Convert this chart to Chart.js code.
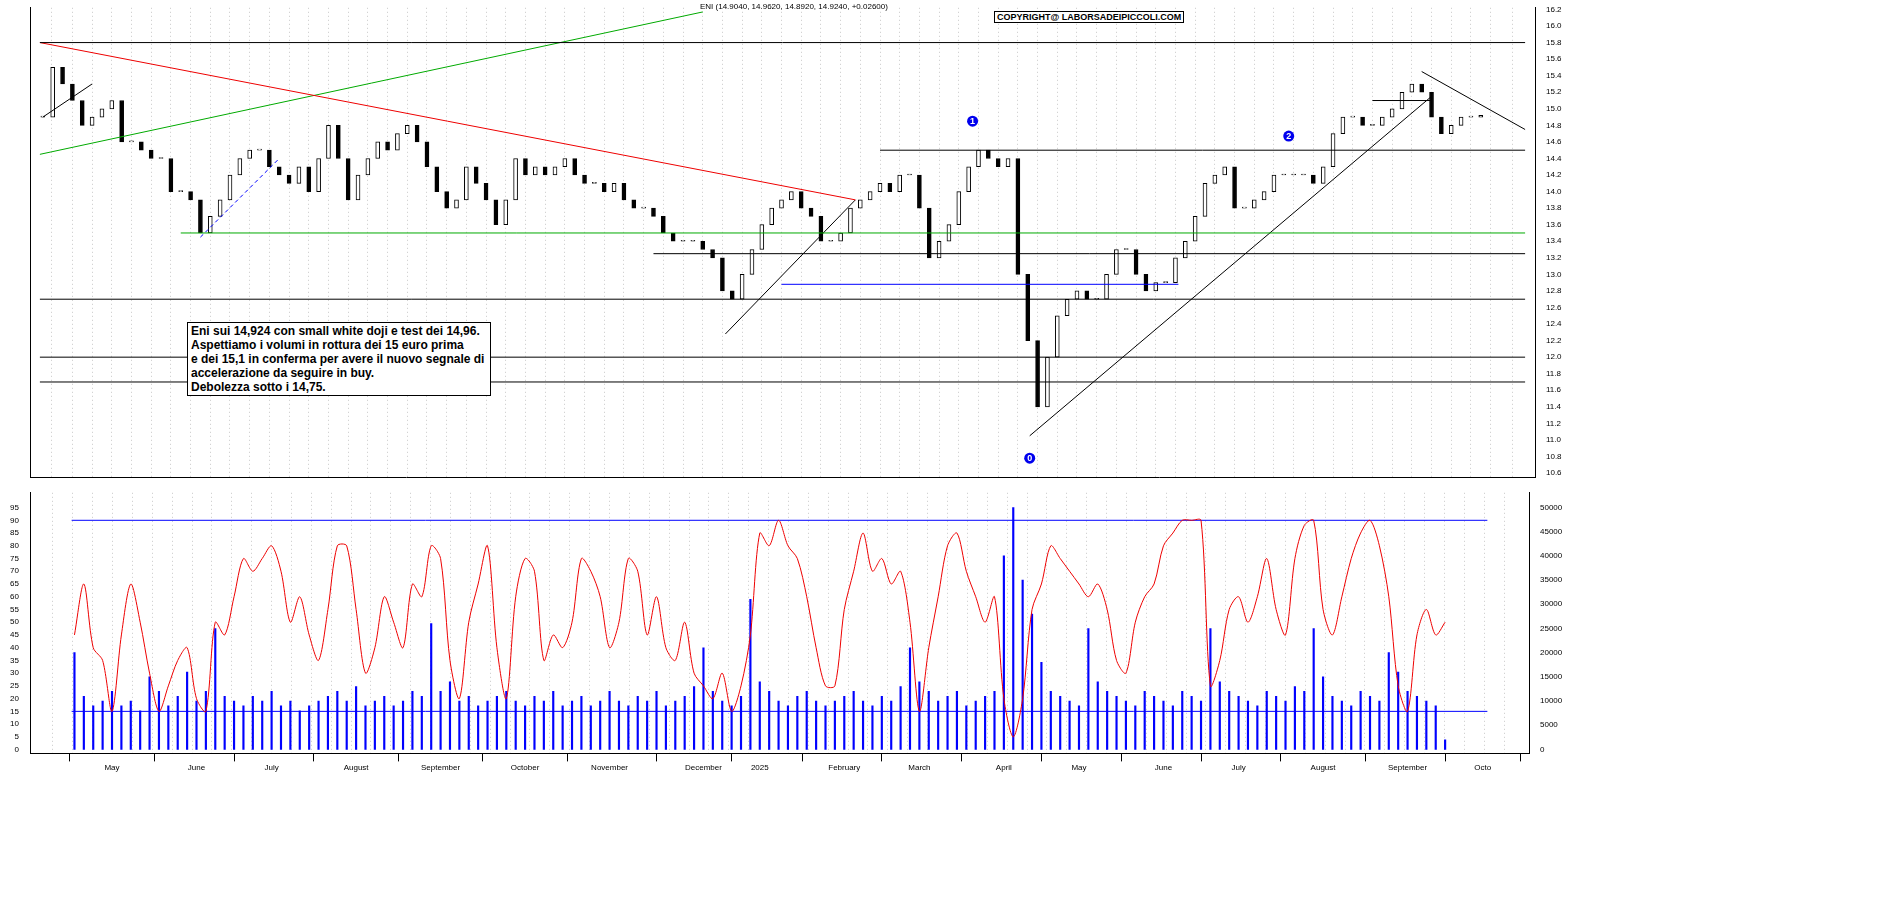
<!DOCTYPE html>
<html>
<head>
<meta charset="utf-8">
<script src="https://cdn.jsdelivr.net/npm/chart.js@4.4.1/dist/chart.umd.min.js"></script>
<style>
  body { margin: 0; background: #fff; font-family: "Liberation Sans", Arial, sans-serif; }
  #wrap { position: relative; width: 1890px; height: 902px; }
  #c1 { position: absolute; left: 0; top: 0; }
  #c2 { position: absolute; left: 0; top: 485px; }
  .note { position: absolute; left: 187px; top: 322px; white-space: nowrap; border: 1px solid #000; background: #fff;
          font: bold 12px "Liberation Sans", Arial, sans-serif; line-height: 14px; padding: 1px 6px 1px 3px; }
  .title { position: absolute; left: 700px; top: 2px; font: 8px "Liberation Sans", Arial, sans-serif; color: #000; }
  .copy { position: absolute; left: 994px; top: 11px; border: 1px solid #000; padding: 0 2px;
          font: bold 9px "Liberation Sans", Arial, sans-serif; background: #fff; }
</style>
</head>
<body>
<div id="wrap">
  <canvas id="c1" width="1565" height="485"></canvas>
  <canvas id="c2" width="1565" height="290"></canvas>
  <div class="title">ENI (14.9040, 14.9620, 14.8920, 14.9240, +0.02600)</div>
  <div class="copy">COPYRIGHT@ LABORSADEIPICCOLI.COM</div>
  <div class="note">Eni sui 14,924 con small white doji e test dei 14,96.<br>
    Aspettiamo i volumi in rottura dei 15 euro prima<br>
    e dei 15,1 in conferma per avere il nuovo segnale di<br>
    accelerazione da seguire in buy.<br>
    Debolezza sotto i 14,75.</div>
</div>
<script>
// closes, sampled about every 2 trading days (May 2024 - Sep 2025)
const closes = [14.9,15.5,15.3,15.1,14.8,14.9,15.0,15.1,14.6,14.6,14.5,14.4,14.4,14.0,14.0,13.9,13.5,13.7,13.9,14.2,
  14.4,14.5,14.5,14.3,14.2,14.1,14.3,14.0,14.4,14.8,14.4,13.9,14.2,14.4,14.6,14.5,14.7,14.8,14.6,14.3,
  14.0,13.8,13.9,14.3,14.1,13.9,13.6,13.9,14.4,14.2,14.3,14.2,14.3,14.4,14.2,14.1,14.1,14.0,14.1,13.9,
  13.8,13.8,13.7,13.5,13.4,13.4,13.4,13.3,13.2,12.8,12.7,13.0,13.3,13.6,13.8,13.9,14.0,13.8,13.7,13.4,
  13.4,13.5,13.8,13.9,14.0,14.1,14.0,14.2,14.2,13.8,13.2,13.4,13.6,14.0,14.3,14.5,14.4,14.3,14.4,13.0,
  12.2,11.4,12.0,12.5,12.7,12.8,12.7,12.7,13.0,13.3,13.3,13.0,12.8,12.9,12.9,13.2,13.4,13.7,14.1,14.2,
  14.3,13.8,13.8,13.9,14.0,14.2,14.2,14.2,14.2,14.1,14.3,14.7,14.9,14.9,14.8,14.8,14.9,15.0,15.2,15.3,
  15.2,14.9,14.7,14.8,14.9,14.9,14.92];
const osc = [45,65,40,35,15,45,65,50,30,15,25,35,40,20,15,50,45,60,75,70,
  75,80,70,50,60,45,35,55,80,80,55,30,40,60,50,40,65,60,80,75,
  35,20,50,65,80,40,20,60,75,70,35,45,40,50,75,70,60,40,50,75,
  70,45,60,40,35,50,30,25,20,30,15,25,45,85,80,90,80,75,60,40,
  25,25,55,70,85,70,75,65,70,50,15,40,60,80,85,70,60,50,60,20,
  5,20,55,65,80,75,70,65,60,65,55,35,30,50,60,65,80,85,90,90,
  90,25,35,55,60,50,60,75,55,45,75,88,90,55,45,60,75,85,90,80,
  60,25,15,45,55,45,50];
const volume = [20000,11000,9000,10000,12000,9000,10000,8000,15000,12000,9000,11000,16000,10000,12000,25000,11000,10000,9000,11000,
  10000,12000,9000,10000,8000,9000,10000,11000,12000,10000,13000,9000,10000,11000,9000,10000,12000,11000,26000,12000,
  14000,10000,11000,9000,10000,11000,12000,10000,9000,11000,10000,12000,9000,10000,11000,9000,10000,12000,10000,9000,
  11000,10000,12000,9000,10000,11000,13000,21000,12000,10000,9000,11000,31000,14000,12000,10000,9000,11000,12000,10000,
  9000,10000,11000,12000,10000,9000,11000,10000,13000,21000,14000,12000,10000,11000,12000,9000,10000,11000,12000,40000,
  50000,35000,28000,18000,12000,11000,10000,9000,25000,14000,12000,11000,10000,9000,12000,11000,10000,9000,12000,11000,
  10000,25000,14000,12000,11000,10000,9000,12000,11000,10000,13000,12000,25000,15000,11000,10000,9000,12000,11000,10000,
  20000,16000,12000,11000,10000,9000,2000];
const monthLabels = ["May","June","July","August","September","October","November","December","2025",
  "February","March","April","May","June","July","August","September","Octo"];
const monthPos = [4,13,21,30,39,48,57,67,73,82,90,99,107,116,124,133,142,150];
const priceTicks = [];
for (let v = 106; v <= 162; v++) priceTicks.push(v / 10);

const opens = closes.map((c, i) => i ? closes[i - 1] : c);
const candles = closes.map((c, i) => ({ x: i, y: [opens[i], c] }));

function seg(x1, y1, x2, y2, color, w, dash) {
  return { type: 'line', data: [{ x: x1, y: y1 }, { x: x2, y: y2 }], borderColor: color, borderWidth: w || 1,
    borderDash: dash || [], pointRadius: 0, yAxisID: 'y', xAxisID: 'x' };
}
const xMin = -0.3, xMax = 150.5;
const fitLeft = s => { s.width = 30; };
const fitRight = s => { s.width = 30; };
const gridX = { color: '#c8c8c8', drawTicks: false };

const labelPlugin = {
  id: 'markers',
  afterDatasetsDraw(chart) {
    const { ctx, scales } = chart;
    [[94.4, 14.85, '1'], [126.5, 14.67, '2'], [100.2, 10.78, '0']].forEach(([x, y, t]) => {
      const px = scales.x.getPixelForValue(x), py = scales.y.getPixelForValue(y);
      ctx.fillStyle = '#0000ee'; ctx.beginPath(); ctx.arc(px, py, 5.5, 0, Math.PI * 2); ctx.fill();
      ctx.fillStyle = '#fff'; ctx.font = 'bold 9px Liberation Sans'; ctx.textAlign = 'center'; ctx.textBaseline = 'middle';
      ctx.fillText(t, px, py + 0.5);
    });
  }
};

new Chart(document.getElementById('c1'), {
  data: {
    datasets: [
      seg(xMin, 15.8, xMax, 15.8, '#000'),
      seg(85, 14.5, xMax, 14.5, '#000'),
      seg(62, 13.25, xMax, 13.25, '#000'),
      seg(xMin, 12.7, xMax, 12.7, '#000'),
      seg(xMin, 12.0, xMax, 12.0, '#000'),
      seg(xMin, 11.7, xMax, 11.7, '#000'),
      seg(14, 13.5, xMax, 13.5, '#00aa00'),
      seg(75, 12.88, 115.3, 12.88, '#0000ff'),
      seg(xMin, 15.8, 82.5, 13.9, '#ee0000'),
      seg(xMin, 14.45, 67, 16.17, '#00aa00'),
      seg(69.3, 12.28, 82.5, 13.9, '#000'),
      seg(100.2, 11.05, 141, 15.15, '#000'),
      seg(135, 15.1, 141, 15.1, '#000'),
      seg(140, 15.45, 150.5, 14.75, '#000'),
      seg(0, 14.9, 5, 15.3, '#000'),
      seg(16, 13.45, 24, 14.4, '#0000ff', 1, [4, 3]),
      {
        type: 'bar', data: candles, xAxisID: 'x', yAxisID: 'y', barThickness: 4,
        backgroundColor: candles.map(d => d.y[1] >= d.y[0] ? '#ffffff' : '#000000'),
        borderColor: '#000', borderWidth: 1, borderSkipped: false, minBarLength: 1
      }
    ]
  },
  options: {
    responsive: false, animation: false,
    layout: { padding: { top: 0, bottom: 0, left: 0, right: 0 } },
    plugins: { legend: { display: false }, tooltip: { enabled: false } },
    scales: {
      x: { type: 'linear', min: xMin, max: xMax, display: true,
        ticks: { display: false, stepSize: 2 },
        grid: gridX, border: { display: true, color: '#000', dash: [1, 3] } },
      yl: { position: 'left', afterFit: fitLeft, ticks: { display: false }, grid: { display: false }, border: { color: '#000' } },
      y: { position: 'right', min: 10.55, max: 16.22, afterFit: fitRight,
        afterBuildTicks: a => { a.ticks = priceTicks.map(v => ({ value: v })); },
        ticks: { font: { size: 8, family: 'Liberation Sans' }, color: '#000', padding: 3, callback: v => v.toFixed(1) },
        grid: { display: false }, border: { color: '#000' } }
    }
  },
  plugins: [labelPlugin]
});

new Chart(document.getElementById('c2'), {
  data: {
    datasets: [
      { type: 'line', data: osc.map((v, i) => ({ x: i, y: v })), borderColor: '#ee0000', borderWidth: 1,
        pointRadius: 0, tension: 0.3, yAxisID: 'yo', xAxisID: 'x', order: 0 },
      { type: 'line', data: [{ x: xMin, y: 90 }, { x: xMax, y: 90 }], borderColor: '#0000ff', borderWidth: 1, pointRadius: 0, yAxisID: 'yo', xAxisID: 'x' },
      { type: 'line', data: [{ x: xMin, y: 15 }, { x: xMax, y: 15 }], borderColor: '#0000ff', borderWidth: 1, pointRadius: 0, yAxisID: 'yo', xAxisID: 'x' },
      { type: 'bar', data: volume.map((v, i) => ({ x: i, y: v })), backgroundColor: '#0000ff', barThickness: 1.5,
        yAxisID: 'yv', xAxisID: 'x', order: 2 }
    ]
  },
  options: {
    responsive: false, animation: false,
    layout: { padding: { top: 2, bottom: 0 } },
    plugins: { legend: { display: false }, tooltip: { enabled: false } },
    scales: {
      x: { type: 'linear', min: xMin, max: xMax, position: 'bottom',
        afterBuildTicks: a => { a.ticks = monthPos.map(v => ({ value: v })); },
        ticks: { font: { size: 8, family: 'Liberation Sans' }, color: '#000', maxRotation: 0, autoSkip: false, padding: 2,
          callback: (v, i) => monthLabels[i] },
        grid: { color: '#000', drawOnChartArea: false, tickLength: 8 }, border: { color: '#000' } },
      xg: { type: 'linear', min: xMin, max: xMax, display: true, position: 'bottom',
        ticks: { display: false, stepSize: 2 }, grid: gridX, border: { display: false, dash: [1, 3] } },
      yo: { position: 'left', min: -1.5, max: 100.8, afterFit: fitLeft,
        afterBuildTicks: a => { const t = []; for (let v = 0; v <= 95; v += 5) t.push({ value: v }); a.ticks = t; },
        ticks: { font: { size: 8, family: 'Liberation Sans' }, color: '#000', padding: 3 },
        grid: { display: false }, border: { color: '#000' } },
      yv: { position: 'right', min: -810, max: 53036, afterFit: s => { s.width = 36; },
        afterBuildTicks: a => { const t = []; for (let v = 0; v <= 50000; v += 5000) t.push({ value: v }); a.ticks = t; },
        ticks: { font: { size: 8, family: 'Liberation Sans' }, color: '#000', padding: 3, callback: v => String(v) },
        grid: { display: false }, border: { color: '#000' } }
    }
  }
});
</script>
</body>
</html>
